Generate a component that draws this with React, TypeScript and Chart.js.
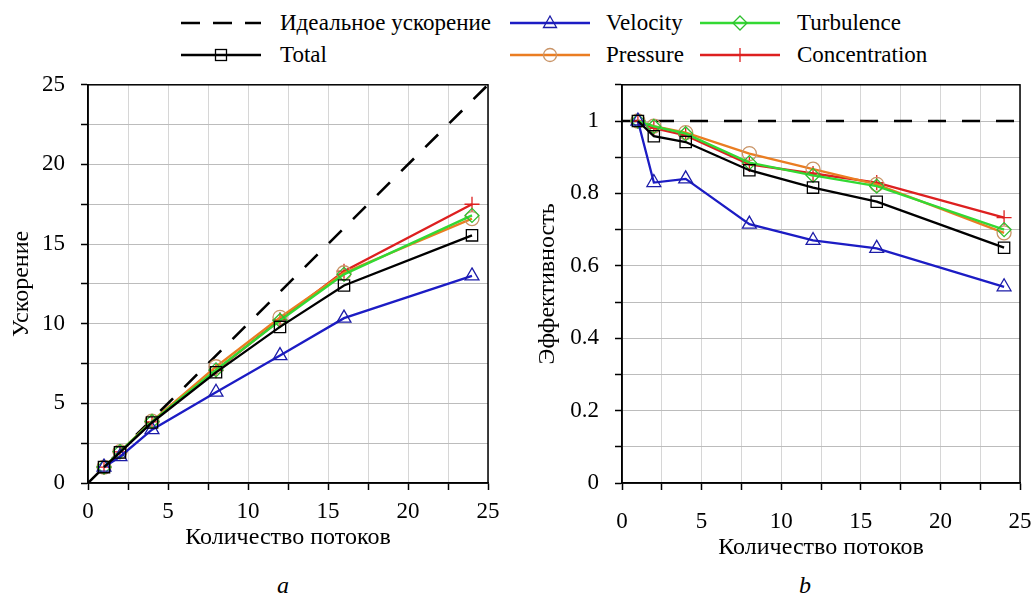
import React, { useEffect, useRef } from 'react';
import { Chart, registerables } from 'chart.js';

Chart.register(...registerables);

// ---------- data ----------
const threads = [1, 2, 4, 8, 12, 16, 24];
const idealX = [0, 25];
const idealSpeedup = [0, 25];
const idealEfficiency = [1, 1];

const speedupTotal = [1, 1.92, 3.8, 6.95, 9.8, 12.4, 15.55];
const speedupVelocity = [1, 1.65, 3.35, 5.7, 8.0, 10.35, 13.0];
const speedupTurbulence = [1, 1.97, 3.86, 7.1, 10.2, 13.1, 16.8];
const speedupPressure = [1, 1.97, 3.88, 7.3, 10.4, 13.2, 16.6];
const speedupConcentration = [1, 1.96, 3.84, 7.05, 10.25, 13.3, 17.5];

const effTotal = [1, 0.958, 0.942, 0.864, 0.816, 0.777, 0.65];
const effVelocity = [1, 0.83, 0.84, 0.715, 0.67, 0.648, 0.542];
const effTurbulence = [1, 0.985, 0.965, 0.885, 0.85, 0.82, 0.7];
const effPressure = [1, 0.986, 0.968, 0.91, 0.867, 0.825, 0.691];
const effConcentration = [1, 0.98, 0.96, 0.88, 0.855, 0.83, 0.733];

const idealLabel = 'Идеальное ускорение';
const xTitle = 'Количество потоков';
const yTitleLeft = 'Ускорение';
const yTitleRight = 'Эффективность';
const panelLabels = ['a', 'b'];

// ---------- styles ----------
const FONT = "'Liberation Serif', Tinos, serif";
const TICK_FS = 23;
const TITLE_FS = 24;
const LEGEND_FS = 23;

type Series = {
  label: string;
  color: string;
  markColor: string;
  style: string;
  radius: number;
  speed: number[];
  eff: number[];
};

const series: Series[] = [
  { label: 'Total', color: '#000000', markColor: '#000000', style: 'rect', radius: 8, speed: speedupTotal, eff: effTotal },
  { label: 'Velocity', color: '#1c1cc4', markColor: '#1c1ca8', style: 'triangle', radius: 8, speed: speedupVelocity, eff: effVelocity },
  { label: 'Turbulence', color: '#33d933', markColor: '#2fbf2f', style: 'rectRot', radius: 7, speed: speedupTurbulence, eff: effTurbulence },
  { label: 'Pressure', color: '#ea7d22', markColor: '#c99467', style: 'circle', radius: 7, speed: speedupPressure, eff: effPressure },
  { label: 'Concentration', color: '#dd2020', markColor: '#dd2020', style: 'cross', radius: 7.5, speed: speedupConcentration, eff: effConcentration },
];

const pts = (xs: number[], ys: number[]) => xs.map((x, i) => ({ x, y: ys[i] }));

const framePlugin = {
  id: 'frame',
  beforeDatasetsDraw(chart: any) {
    const { ctx, chartArea } = chart;
    const { left, top, right, bottom } = chartArea;
    ctx.save();
    ctx.strokeStyle = '#000';
    ctx.lineWidth = 1.5;
    ctx.strokeRect(left, top, right - left, bottom - top);
    ctx.restore();
  },
};

function buildConfig(kind: 'speed' | 'eff') {
  const isSpeed = kind === 'speed';
  const datasets: any[] = series.map((s) => ({
    label: s.label,
    data: pts(threads, isSpeed ? s.speed : s.eff),
    borderColor: s.color,
    borderWidth: 2.3,
    pointStyle: s.style,
    pointRadius: s.radius,
    pointBorderColor: s.markColor,
    pointBackgroundColor: 'rgba(0,0,0,0)',
    pointBorderWidth: 1.3,
    fill: false,
    tension: 0,
  }));
  datasets.push({
    label: idealLabel,
    data: pts(idealX, isSpeed ? idealSpeedup : idealEfficiency),
    borderColor: '#000',
    borderWidth: 2.6,
    borderDash: [18, 16],
    pointRadius: 0,
    fill: false,
    tension: 0,
  });

  const tickFont = { family: FONT, size: TICK_FS, lineHeight: 1.2 };
  const xTickFont = { family: FONT, size: TICK_FS, lineHeight: isSpeed ? 1.2 : 2.7 };
  const titleFont = { family: FONT, size: TITLE_FS, lineHeight: 1.2 };

  return {
    type: 'line',
    data: { datasets },
    plugins: [framePlugin],
    options: {
      animation: false,
      responsive: false,
      events: [],
      layout: { padding: { left: 0, right: isSpeed ? 22 : 13, top: 0, bottom: 0 } },
      plugins: { legend: { display: false }, tooltip: { enabled: false } },
      scales: {
        x: {
          type: 'linear',
          min: 0,
          max: 25,
          afterFit: (s: any) => { s.height = isSpeed ? 70 : 80; },
          ticks: {
            stepSize: 2.5,
            autoSkip: false,
            maxRotation: 0,
            color: '#000',
            font: xTickFont,
            padding: isSpeed ? 8 : 1,
            callback: (v: any) => (Math.round(v * 10) % 50 === 0 ? String(v) : ''),
          },
          grid: { color: '#d6d6d6', lineWidth: 1, tickColor: '#000', tickLength: 7, tickWidth: 1.5 },
          border: { color: '#000', width: 1.5 },
          title: { display: true, text: xTitle, color: '#000', font: titleFont, padding: { top: 0, bottom: 1 } },
        },
        y: {
          type: 'linear',
          min: 0,
          max: isSpeed ? 25 : 1.1,
          afterFit: (s: any) => { s.width = isSpeed ? 88 : 102; },
          ticks: {
            stepSize: isSpeed ? 2.5 : 0.1,
            autoSkip: false,
            color: '#000',
            font: tickFont,
            padding: 16,
            callback: (v: any) => {
              if (isSpeed) return Math.round(v * 10) % 50 === 0 ? String(v) : '';
              const k = Math.round(v * 10);
              return k % 2 === 0 ? String(k / 10) : '';
            },
          },
          grid: { color: '#bcbcbc', lineWidth: 1, tickColor: '#000', tickLength: 7, tickWidth: 1.5 },
          border: { color: '#000', width: 1.5 },
          title: {
            display: true,
            text: isSpeed ? yTitleLeft : yTitleRight,
            color: '#000',
            font: titleFont,
            padding: { top: isSpeed ? 7.6 : 13.6, bottom: 0 },
          },
        },
      },
    },
  };
}

function ChartCanvas({ kind, left, top, width, height }: { kind: 'speed' | 'eff'; left: number; top: number; width: number; height: number }) {
  const ref = useRef<HTMLCanvasElement | null>(null);
  useEffect(() => {
    if (!ref.current) return;
    const chart = new Chart(ref.current, buildConfig(kind) as any);
    return () => chart.destroy();
  }, [kind]);
  return (
    <canvas
      ref={ref}
      width={width}
      height={height}
      style={{ position: 'absolute', left, top, width, height, display: 'block' }}
    />
  );
}

function Marker({ style, color }: { style: string; color: string }) {
  const c = 40;
  const m = 8;
  const sw = 1.3;
  if (style === 'rect') return <rect x={c - 5.5} y={m - 5.5} width={11} height={11} fill="none" stroke={color} strokeWidth={sw} />;
  if (style === 'triangle')
    return <polygon points={`${c},${m - 7} ${c - 6.5},${m + 4.5} ${c + 6.5},${m + 4.5}`} fill="none" stroke={color} strokeWidth={sw} />;
  if (style === 'rectRot')
    return <polygon points={`${c},${m - 7} ${c + 7},${m} ${c},${m + 7} ${c - 7},${m}`} fill="none" stroke={color} strokeWidth={sw} />;
  if (style === 'circle') return <circle cx={c} cy={m} r={6.5} fill="none" stroke={color} strokeWidth={sw} />;
  if (style === 'cross')
    return <line x1={c} y1={m - 7} x2={c} y2={m + 7} stroke={color} strokeWidth={sw} />;
  return null;
}

function LegendItem({ x, y, textX, label, color, dash, style, markColor }: any) {
  return (
    <>
      <svg width={82} height={16} style={{ position: 'absolute', left: x, top: y - 8, overflow: 'visible' }}>
        <line x1={0} y1={8} x2={80} y2={8} stroke={color} strokeWidth={2.5} strokeDasharray={dash ? '19 13' : undefined} />
        {style ? <Marker style={style} color={markColor} /> : null}
      </svg>
      <div
        style={{
          position: 'absolute',
          left: textX,
          top: y - 15,
          height: 30,
          lineHeight: '30px',
          fontFamily: FONT,
          fontSize: LEGEND_FS,
          color: '#000',
          whiteSpace: 'nowrap',
        }}
      >
        {label}
      </div>
    </>
  );
}

export default function App() {
  const byLabel = (l: string) => series.find((s) => s.label === l)!;
  const cols = [
    { x: 181, tx: 280 },
    { x: 510, tx: 606 },
    { x: 700, tx: 797 },
  ];
  const rows = [23, 55];
  const grid: [number, number, string][] = [
    [0, 0, idealLabel],
    [1, 0, 'Velocity'],
    [2, 0, 'Turbulence'],
    [0, 1, 'Total'],
    [1, 1, 'Pressure'],
    [2, 1, 'Concentration'],
  ];
  const panelStyle: any = {
    position: 'absolute',
    top: 570,
    width: 26,
    textAlign: 'center',
    fontFamily: FONT,
    fontSize: TITLE_FS,
    fontStyle: 'italic',
    lineHeight: '30px',
  };
  return (
    <div style={{ position: 'absolute', left: 0, top: 0, width: 1033, height: 594 }}>
      {grid.map(([c, r, label]) => {
        const s = label === idealLabel ? null : byLabel(label);
        return (
          <LegendItem
            key={label}
            x={cols[c].x}
            textX={cols[c].tx}
            y={rows[r]}
            label={label}
            color={s ? s.color : '#000'}
            dash={!s}
            style={s ? s.style : null}
            markColor={s ? s.markColor : '#000'}
          />
        );
      })}
      <ChartCanvas kind="speed" left={0} top={55} width={510} height={498} />
      <ChartCanvas kind="eff" left={520} top={55} width={513} height={508} />
      <div style={{ ...panelStyle, left: 270 }}>{panelLabels[0]}</div>
      <div style={{ ...panelStyle, left: 792 }}>{panelLabels[1]}</div>
    </div>
  );
}
